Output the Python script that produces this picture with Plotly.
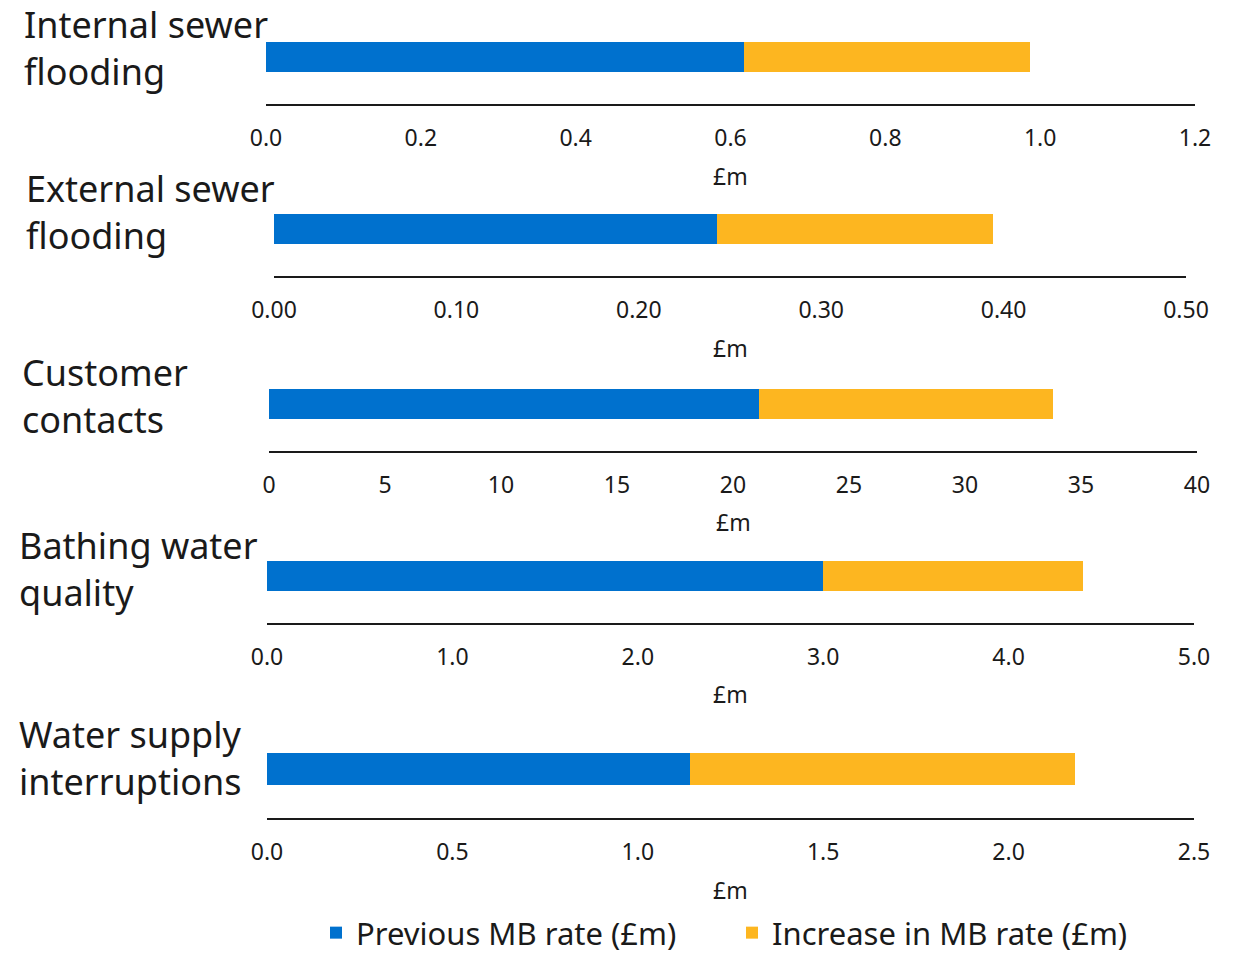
import plotly.graph_objects as go

# Performance commitments and their outcome delivery incentive rates
categories = [
    "Internal sewer<br>flooding",
    "External sewer<br>flooding",
    "Customer<br>contacts",
    "Bathing water<br>quality",
    "Water supply<br>interruptions",
]
previous_rate = [0.617, 0.243, 21.1, 3.0, 1.14]
increase_rate = [0.37, 0.151, 12.7, 1.4, 1.04]

axis_max = [1.2, 0.5, 40, 5.0, 2.5]
tick_step = [0.2, 0.1, 5, 1.0, 0.5]
tick_format = [".1f", ".2f", "d", ".1f", ".1f"]

series_names = ["Previous MB rate (£m)", "Increase in MB rate (£m)"]
series_colors = ["#0071CE", "#FDB620"]

W, H = 1240, 954
FONT = "Noto Sans"
INK = "#1a1a1a"

# panel geometry in pixels (left, right, axis line, bar top, bar height)
px_left = [266, 274, 269, 267, 267]
px_right = [1195, 1186, 1197, 1194, 1194]
px_axis = [104, 276, 451, 623, 818]
px_bar_top = [42, 214, 389, 561, 753]
px_bar_h = [30, 30, 30, 30, 32]
# panel heading: left edge and vertical centre of the two-line block
px_title_x = [22, 24, 20, 17, 17]
px_title_y = [48, 212, 396, 569, 758]
px_unit_y = [176, 348, 522, 694, 890]


def fx(p):
    return p / W


def fy(p):
    return 1 - p / H


fig = go.Figure()
layout = dict(
    width=W,
    height=H,
    margin=dict(l=0, r=0, t=0, b=0, autoexpand=False),
    paper_bgcolor="white",
    plot_bgcolor="white",
    barmode="stack",
    font=dict(family=FONT, color=INK),
    showlegend=True,
    legend=dict(
        orientation="h",
        x=fx(316),
        xanchor="left",
        y=fy(933),
        yanchor="middle",
        font=dict(size=31, family=FONT, color=INK),
        entrywidth=371,
        entrywidthmode="pixels",
        itemclick=False,
        itemdoubleclick=False,
    ),
    annotations=[],
)

for i, cat in enumerate(categories):
    n = "" if i == 0 else str(i + 1)
    xa, ya = "x" + n, "y" + n
    for s, vals in enumerate([previous_rate, increase_rate]):
        fig.add_trace(
            go.Bar(
                x=[vals[i]],
                y=[cat],
                orientation="h",
                width=1,
                name=series_names[s],
                marker=dict(color=series_colors[s], line=dict(width=0)),
                legendgroup=series_names[s],
                showlegend=(i == 0),
                xaxis=xa,
                yaxis=ya,
            )
        )

    dom_h = px_axis[i] - px_bar_top[i]
    ticks = []
    v = 0.0
    while v <= axis_max[i] + 1e-9:
        ticks.append(round(v, 6))
        v += tick_step[i]

    layout["xaxis" + n] = dict(
        domain=[fx(px_left[i]), fx(px_right[i])],
        range=[0, axis_max[i]],
        anchor=ya,
        showline=True,
        linecolor=INK,
        linewidth=2,
        showgrid=False,
        zeroline=False,
        ticks="",
        tickvals=ticks,
        tickformat=tick_format[i],
        tickfont=dict(size=23, family=FONT, color=INK),
        ticklabelstandoff=12,
        fixedrange=True,
    )
    layout["yaxis" + n] = dict(
        domain=[fy(px_axis[i]), fy(px_bar_top[i])],
        range=[0.5 - dom_h / px_bar_h[i], 0.5],
        anchor=xa,
        type="category",
        visible=False,
        showgrid=False,
        zeroline=False,
        fixedrange=True,
    )

    layout["annotations"].append(
        dict(
            text=cat,
            xref="paper",
            yref="paper",
            x=fx(px_title_x[i]),
            y=fy(px_title_y[i]),
            xanchor="left",
            yanchor="middle",
            align="left",
            showarrow=False,
            font=dict(size=36, family=FONT, color=INK),
        )
    )
    layout["annotations"].append(
        dict(
            text="£m",
            xref="paper",
            yref="paper",
            x=fx((px_left[i] + px_right[i]) / 2),
            y=fy(px_unit_y[i]),
            xanchor="center",
            yanchor="middle",
            showarrow=False,
            font=dict(size=23, family=FONT, color=INK),
        )
    )

fig.update_layout(**layout)
fig.write_html("out.html")
